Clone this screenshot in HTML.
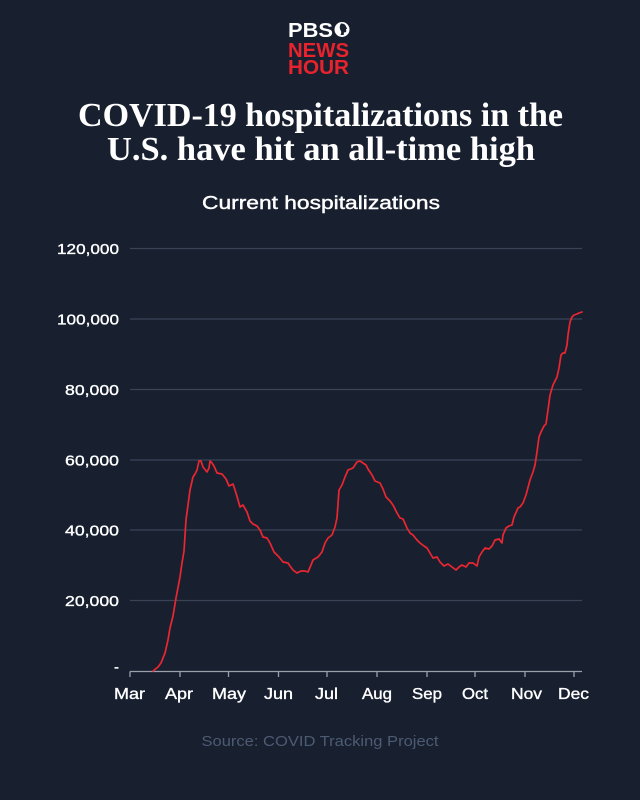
<!DOCTYPE html>
<html>
<head>
<meta charset="utf-8">
<style>
  html, body { margin: 0; padding: 0; background: #182030; }
  svg { display: block; }
</style>
</head>
<body>
<svg width="640" height="800" viewBox="0 0 640 800" xmlns="http://www.w3.org/2000/svg">
  <rect x="0" y="0" width="640" height="800" fill="#182030"/>

  <!-- Logo -->
  <g font-family="Liberation Sans, sans-serif" font-weight="bold">
    <text x="288" y="37" font-size="20" fill="#ffffff" textLength="45" lengthAdjust="spacingAndGlyphs">PBS</text>
    <circle cx="342" cy="29.5" r="7.5" fill="#ffffff"/>
    <path d="M341 23.5 q4 -0.3 5 3 l1.2 2.2 l-1.2 0.4 l0.3 2 q-0.4 1.5 -2.4 1.3 l-0.2 2.6 l-3.2 0 q1.6 -3 -0.3 -5.2 q-1.2 -3.4 0.8 -6.3z" fill="#182030"/>
    <text x="288" y="57" font-size="20" fill="#e8232d" textLength="61" lengthAdjust="spacingAndGlyphs">NEWS</text>
    <text x="288" y="74" font-size="20" fill="#e8232d" textLength="61" lengthAdjust="spacingAndGlyphs">HOUR</text>
  </g>

  <!-- Title -->
  <g font-family="Liberation Serif, serif" font-weight="bold" fill="#ffffff" font-size="34">
    <text x="78" y="126" textLength="485" lengthAdjust="spacingAndGlyphs">COVID-19 hospitalizations in the</text>
    <text x="107" y="160" textLength="428" lengthAdjust="spacingAndGlyphs">U.S. have hit an all-time high</text>
  </g>
  <text x="202" y="209" font-family="Liberation Sans, sans-serif" font-size="18.5" fill="#ffffff" stroke="#ffffff" stroke-width="0.4" textLength="238" lengthAdjust="spacingAndGlyphs">Current hospitalizations</text>

  <!-- Gridlines -->
  <g stroke="#3a4456" stroke-width="1.3">
    <line x1="130" y1="248.5" x2="582" y2="248.5"/>
    <line x1="130" y1="319" x2="582" y2="319"/>
    <line x1="130" y1="389.5" x2="582" y2="389.5"/>
    <line x1="130" y1="460" x2="582" y2="460"/>
    <line x1="130" y1="530" x2="582" y2="530"/>
    <line x1="130" y1="600.5" x2="582" y2="600.5"/>
  </g>

  <!-- Y labels -->
  <g font-family="Liberation Sans, sans-serif" font-size="15" fill="#ffffff" stroke="#ffffff" stroke-width="0.35" text-anchor="end">
    <text x="119" y="254" textLength="62" lengthAdjust="spacingAndGlyphs">120,000</text>
    <text x="119" y="324.5" textLength="62" lengthAdjust="spacingAndGlyphs">100,000</text>
    <text x="119" y="395" textLength="54" lengthAdjust="spacingAndGlyphs">80,000</text>
    <text x="119" y="465.5" textLength="54" lengthAdjust="spacingAndGlyphs">60,000</text>
    <text x="119" y="535.5" textLength="54" lengthAdjust="spacingAndGlyphs">40,000</text>
    <text x="119" y="606" textLength="54" lengthAdjust="spacingAndGlyphs">20,000</text>
    <text x="119" y="672">-</text>
  </g>

  <!-- X axis -->
  <g stroke="#9aa1aa" stroke-width="1.3">
    <line x1="130" y1="671.5" x2="582" y2="671.5"/>
    <line x1="130" y1="671.5" x2="130" y2="677"/>
    <line x1="180" y1="671.5" x2="180" y2="677"/>
    <line x1="228.5" y1="671.5" x2="228.5" y2="677"/>
    <line x1="278.5" y1="671.5" x2="278.5" y2="677"/>
    <line x1="327" y1="671.5" x2="327" y2="677"/>
    <line x1="377" y1="671.5" x2="377" y2="677"/>
    <line x1="427" y1="671.5" x2="427" y2="677"/>
    <line x1="475" y1="671.5" x2="475" y2="677"/>
    <line x1="525" y1="671.5" x2="525" y2="677"/>
    <line x1="574" y1="671.5" x2="574" y2="677"/>
  </g>
  <g font-family="Liberation Sans, sans-serif" font-size="16" fill="#ffffff" stroke="#ffffff" stroke-width="0.35" text-anchor="middle">
    <text x="129.5" y="699" textLength="31" lengthAdjust="spacingAndGlyphs">Mar</text>
    <text x="179" y="699" textLength="28" lengthAdjust="spacingAndGlyphs">Apr</text>
    <text x="229" y="699" textLength="34" lengthAdjust="spacingAndGlyphs">May</text>
    <text x="278.5" y="699" textLength="29" lengthAdjust="spacingAndGlyphs">Jun</text>
    <text x="326.5" y="699" textLength="23" lengthAdjust="spacingAndGlyphs">Jul</text>
    <text x="377" y="699" textLength="30" lengthAdjust="spacingAndGlyphs">Aug</text>
    <text x="427" y="699" textLength="30" lengthAdjust="spacingAndGlyphs">Sep</text>
    <text x="475" y="699" textLength="26" lengthAdjust="spacingAndGlyphs">Oct</text>
    <text x="526.5" y="699" textLength="31" lengthAdjust="spacingAndGlyphs">Nov</text>
    <text x="573.5" y="699" textLength="31" lengthAdjust="spacingAndGlyphs">Dec</text>
  </g>

  <!-- Data line -->
  <polyline fill="none" stroke="#ec2630" stroke-width="1.7" stroke-linejoin="round" stroke-linecap="round"
    points="153,671 158,667 161,663 165,653 168,640 170,628 173,616 176,598 180,577 182,563 184,551 186,520 188,505 190,490 193,477 195,474 197,470 199,461 201,461 203,467 207,472 209,468 210,461 212,463 214,466 217,473 222,474 226,479 229,486 233,484 236,493 240,507 243,505 247,512 250,521 253,524 257,526 260,530 263,537 267,538 270,543 274,552 279,557 283,562 288,563 290,566 293,570 297,573 301,571 305,571 308,572 311,565 313,560 318,557 322,552 325,543 328,538 332,535 335,527 337,518 339,490 342,485 345,477 348,470 353,468 357,462 360,461 363,463 366,465 368,469 372,475 375,481 380,483 383,489 386,497 390,501 393,505 397,513 400,518 403,519 407,528 410,533 413,535 417,540 420,543 424,546 427,548 430,553 433,558 437,557 440,562 444,566 448,564 452,567 456,570 459,567 462,565 466,567 469,563 473,563 477,566 479,557 482,552 485,548 489,549 492,546 495,540 499,539 502,543 503,535 506,528 509,526 512,525 514,517 518,508 520,507 523,503 526,495 530,480 533,472 535,465 537,452 539,437 541,432 544,426 546,424 548,410 550,395 553,385 556,379 557,377 559,368 561,355 563,353 565,353 567,345 568,335 570,322 572,317 574,315 577,314 579,313 582,312"/>

  <!-- Source -->
  <text x="320" y="746" font-family="Liberation Sans, sans-serif" font-size="15" fill="#4c5b72" text-anchor="middle" textLength="237" lengthAdjust="spacingAndGlyphs">Source: COVID Tracking Project</text>
</svg>
</body>
</html>
